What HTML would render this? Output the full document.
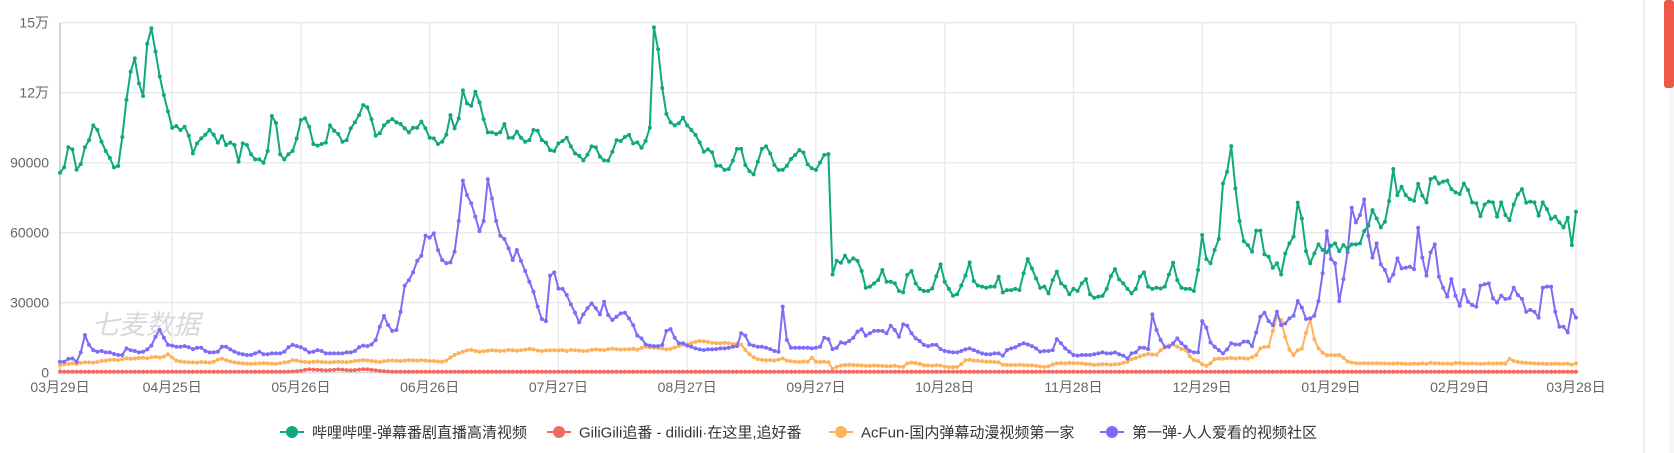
<!DOCTYPE html>
<html><head><meta charset="utf-8">
<style>
html,body{margin:0;padding:0;background:#fff;width:1674px;height:453px;overflow:hidden;font-family:"Liberation Sans","Noto Sans CJK SC",sans-serif;}
svg{position:absolute;left:0;top:0;}
</style></head>
<body>
<svg id="chart" width="1674" height="453" xmlns="http://www.w3.org/2000/svg"></svg>
<script>
const startDate = [2023, 2, 29]; // 03-29, daily categories
const dayCount = 366;
const xTickLabels = ["03月29日","04月25日","05月26日","06月26日","07月27日","08月27日","09月27日","10月28日","11月28日","12月29日","01月29日","02月29日","03月28日"];
const xTickIndex = [0,27,58,89,120,151,182,213,244,275,306,337,365];
const yTickValues = [0,30000,60000,90000,120000,150000];
const yTickLabels = ["0","30000","60000","90000","12万","15万"];
const seriesNames = ["哔哩哔哩-弹幕番剧直播高清视频","GiliGili追番 - dilidili·在这里,追好番","AcFun-国内弹幕动漫视频第一家","第一弹-人人爱看的视频社区"];
const seriesColors = ["#10a97f","#f4685d","#ffb25c","#7c6cf7"];
// values in thousands
const bilibili = [85.7,88,96.6,95.7,87,89.4,96.6,99.7,106,104,
99,95,92,88,88.6,101,117,129,134.7,124,
118.6,141,147.6,137.6,127,119,112,105,105.7,104,
105.4,101.6,94,98.3,100.4,102,104,102,98.6,101.4,
97.6,98.6,97.6,90.4,98.3,97.6,93.6,91.4,91.4,90,
95,110,107,93.6,91.4,93.6,95,100.4,108.3,109,
105.4,98,97.3,98,98.6,106,103.7,102.3,99,99.7,
104.7,107.3,110.4,114.7,113.7,108.7,101.6,102.6,106,107.6,
108.7,107.3,106.6,104.7,103,105,105,107.6,104.7,100.7,
100.4,98,99,102,110.4,104.7,109,121,115.4,114.4,
120.4,115.9,108.7,103,103,102.3,103,106.6,100.7,100.7,
103.3,100.7,99,99.7,104,103.7,99.7,98.6,95.4,95,
98.3,99.3,100.7,97,94,93,91,93.4,97,96.6,
92.6,91,90.9,94.7,99.7,99.3,101,101.9,98.3,98.7,
96.4,99.3,105,148,138.6,122,110.9,107.3,106,106.9,
109.3,106,104,101.9,98.7,94.7,95.7,94.4,88.7,88.7,
86.9,87.3,90.9,95.9,95.9,89,86.4,85,90.4,95.9,
97,94,89,86.9,86.9,88.7,91.6,93.3,95.4,94.3,
89.3,87.6,86.9,90.1,93.3,93.7,42.1,48,47.1,50.1,
47.6,49,48,43.6,36.4,36.9,38.3,39.7,44,39,
39,38.3,35,34.4,41.9,43.6,38.3,35.9,35,35,
36.1,41.4,46.4,39,35.9,33,33.6,37.3,41.6,47.3,
39.3,37.3,36.9,36.4,36.9,36.9,41.1,34.4,35.4,35.4,
35.9,35.4,42.6,48.7,44.7,40.4,36.4,36.9,34,39.7,
43.3,38.3,36.9,33.6,35.9,35,38.3,40.1,33.6,32.1,
32.6,32.9,35.9,41.4,44.4,40,38.3,35.9,34,35.9,
41.1,43,36.9,35.9,36.4,36.1,36.9,42.1,47.1,39.7,
36.4,35.9,35.9,35,44,59,48.7,46.9,52.6,57.3,
81.1,86.1,97.1,79,65,56.4,54.7,51.9,60.9,60.9,
50.7,49.7,45,46.9,42.1,51.1,55.4,58.3,72.9,66.1,
52.1,46.9,51.1,55,52.6,51.6,54.4,55.4,52.1,54.7,
53,55,55,55.4,60.7,63,69.7,66.1,62.3,64.7,
73.6,87.3,76.1,79.7,76.1,74.4,73.7,80.9,75.9,73,
83,83.7,81.1,81.9,82.3,78.7,77.3,76.6,81.1,78.3,
73,72.6,67.1,72.1,73.3,73,66.9,73,67.6,65.4,
72.1,76.4,78.7,72.9,73.3,73,67.3,73,70.1,65.9,
66.9,64.4,62.3,66.4,54.7,69];
const giligili = [0.4,0.4,0.4,0.4,0.4,0.4,0.4,0.4,0.4,0.4,
0.4,0.4,0.4,0.4,0.4,0.4,0.4,0.4,0.4,0.4,
0.4,0.4,0.4,0.4,0.4,0.4,0.4,0.4,0.4,0.4,
0.4,0.4,0.4,0.4,0.4,0.4,0.4,0.4,0.4,0.4,
0.4,0.4,0.4,0.4,0.4,0.4,0.4,0.4,0.4,0.4,
0.4,0.4,0.4,0.4,0.4,0.4,0.5,0.6,0.8,1.2,
1.4,1.3,1.2,1.1,1,1.1,1.2,1.4,1.3,1.1,
1,1.1,1.3,1.5,1.4,1.2,1,0.8,0.6,0.5,
0.4,0.4,0.4,0.4,0.4,0.4,0.4,0.4,0.4,0.4,
0.4,0.4,0.4,0.4,0.4,0.4,0.4,0.4,0.4,0.4,
0.4,0.4,0.4,0.4,0.4,0.4,0.4,0.4,0.4,0.4,
0.4,0.4,0.4,0.4,0.4,0.4,0.4,0.4,0.4,0.4,
0.4,0.4,0.4,0.4,0.4,0.4,0.4,0.4,0.4,0.4,
0.4,0.4,0.4,0.4,0.4,0.4,0.4,0.4,0.4,0.4,
0.4,0.4,0.4,0.4,0.4,0.4,0.4,0.4,0.4,0.4,
0.4,0.4,0.4,0.4,0.4,0.4,0.4,0.4,0.4,0.4,
0.4,0.4,0.4,0.4,0.4,0.4,0.4,0.4,0.4,0.4,
0.4,0.4,0.4,0.4,0.4,0.4,0.4,0.4,0.4,0.4,
0.4,0.4,0.4,0.4,0.4,0.4,0.4,0.4,0.4,0.4,
0.4,0.4,0.4,0.4,0.4,0.4,0.4,0.4,0.4,0.4,
0.4,0.4,0.4,0.4,0.4,0.4,0.4,0.4,0.4,0.4,
0.4,0.4,0.4,0.4,0.4,0.4,0.4,0.4,0.4,0.4,
0.4,0.4,0.4,0.4,0.4,0.4,0.4,0.4,0.4,0.4,
0.4,0.4,0.4,0.4,0.4,0.4,0.4,0.4,0.4,0.4,
0.4,0.4,0.4,0.4,0.4,0.4,0.4,0.4,0.4,0.4,
0.4,0.4,0.4,0.4,0.4,0.4,0.4,0.4,0.4,0.4,
0.4,0.4,0.4,0.4,0.4,0.4,0.4,0.4,0.4,0.4,
0.4,0.4,0.4,0.4,0.4,0.4,0.4,0.4,0.4,0.4,
0.4,0.4,0.4,0.4,0.4,0.4,0.4,0.4,0.4,0.4,
0.4,0.4,0.4,0.4,0.4,0.4,0.4,0.4,0.4,0.4,
0.4,0.4,0.4,0.4,0.4,0.4,0.4,0.4,0.4,0.4,
0.4,0.4,0.4,0.4,0.4,0.4,0.4,0.4,0.4,0.4,
0.4,0.4,0.4,0.4,0.4,0.4,0.4,0.4,0.4,0.4,
0.4,0.4,0.4,0.4,0.4,0.4,0.4,0.4,0.4,0.4,
0.4,0.4,0.4,0.4,0.4,0.4,0.4,0.4,0.4,0.4,
0.4,0.4,0.4,0.4,0.4,0.4,0.4,0.4,0.4,0.4,
0.4,0.4,0.4,0.4,0.4,0.4];
const acfun = [3.3,3.5,3.8,4,3.8,4.2,4.5,4.4,4.3,4.6,
5,5.2,5.5,5.6,5.4,5.8,6.2,6,6.1,6.3,
6.4,6.2,6.6,6.8,6.5,6.9,7.9,6.5,5.2,4.8,
4.6,4.5,4.4,4.3,4.6,4.5,4.3,4.7,5.6,6,
5.4,4.8,4.4,4.2,4,3.9,3.8,3.9,4,4.1,
4,3.9,3.8,4.1,4.4,4.6,5.4,5.2,4.8,4.6,
4.5,4.7,4.8,4.6,4.5,4.4,4.6,4.7,4.6,4.5,
4.7,5,5.2,5.4,5.3,5,4.8,4.6,4.9,5.2,
5.3,5.1,5,5.2,5.4,5.3,5.2,5.4,5.2,5,
5,4.8,4.7,5.2,6.5,7.6,8.4,9,9.6,9.8,
9.3,9,9.2,9.4,9.6,9.5,9.3,9.4,9.8,9.6,
9.4,9.6,9.9,10.2,10,9.5,9.3,9.5,9.6,9.6,
9.5,9.7,9.3,9.8,9.6,9.5,9.3,9.4,9.8,10,
9.8,9.7,10.1,10.3,10.1,9.9,10,10.1,10.2,9.9,
10.6,11,10.9,10.7,10.6,10.4,10,10.2,10.8,11.5,
12,12.2,12.6,13.2,13.6,13.4,13.2,12.8,12.7,12.6,
12.8,12.6,12.3,12.4,12,9.8,7.9,6.6,5.8,5.5,
5.3,5.4,5.2,5.6,6.1,5.2,4.9,4.7,4.6,4.8,
4.7,6.4,4.7,4.6,4.7,4.5,1.6,2.5,3.1,3.3,
3.4,3.3,3.2,3.1,3,3,3.1,3,2.9,2.8,
2.8,3,2.6,2.5,4,4.3,4.1,3.8,3.2,3.1,
3,3.2,3.1,2.6,2.4,2.4,2.5,3.6,5.4,5.5,
5.2,5.1,4.9,4.7,4.7,4.6,4.4,3.4,3.3,3.3,
3.3,3.4,3.3,3.2,3.2,3,2.6,2.5,2.7,3.5,
4,4.1,4,4.2,4.1,4.1,4,3.7,3.6,3.3,
3.5,3.6,3.6,3.4,3.6,3.7,4.2,4.6,5.8,6.3,
7,7.6,8,7.8,7.7,9.6,10.8,11.7,12,11.2,
10.2,9.8,7,5.4,5,3.6,2.9,4,5.8,6.1,
6,6.2,6.3,6.1,6.3,6.2,6,6.6,7.6,10.4,
11,11.2,17.9,24,22.6,15.3,9.9,7.6,9.6,10.3,
17.1,22.9,14.4,10.4,8.6,7.4,7.6,7.5,7.6,6.4,
4.8,4.3,4.1,4,4.1,4,4,4.1,4,4,
3.9,3.9,4,3.9,3.8,3.8,3.9,3.8,4,3.8,
4.2,4,4,3.9,3.9,3.8,4.2,4.1,4,3.9,
4,3.9,3.8,3.9,4,3.9,4,4,3.9,5.9,
5,4.6,4.4,4.2,4.1,4,3.9,3.9,3.8,3.8,
3.9,3.8,3.8,3.9,3.4,4];
const diyidan = [4.7,4.7,5.9,6.1,4.7,8.7,16.1,11.9,9.7,9,
9.3,8.7,8.7,8,7.6,7.6,10.4,9.7,9.3,8.7,
9,10,11.6,15.4,18.3,15,11.9,11.6,11.1,11.1,
11.4,10.9,10.1,10.7,10.7,9.3,8.7,8.7,9,11.1,
11.1,10,9,8.3,7.9,7.6,7.6,8.3,9,7.9,
7.9,8.3,8.3,8.3,9,10.9,11.9,11.4,10.9,10,
8.7,9,9.7,9.3,8.3,8.3,8.3,8.3,8.3,8.7,
8.7,9.3,10.9,11.6,11.4,12.1,14,19.7,24.3,20.4,
17.9,18.3,26.1,37.3,39.7,43,47.9,50.1,58.7,57.9,
59.7,52.6,48.3,46.9,47.3,51.9,65,82.3,76.1,72.6,
66.9,60.7,65,82.9,74.7,65,58.7,57.3,53.3,48.3,
52.6,47.9,43.6,39,34.7,28.3,23,22.1,41.6,43,
36.1,35.9,33.3,29.3,25.7,21.6,25,27.6,29.7,27.6,
25,30.4,24.7,22.6,24,25.4,25.7,23.3,20.4,15.9,
14.7,12.1,11.6,11.4,11.4,11.9,17.9,18.7,15,12.6,
12.6,11.6,11.1,10.4,10,9.7,10,10,10.1,10.4,
10.4,10.7,11.1,11.4,16.9,15.9,12.1,11.6,11.1,11.1,
10.7,10.1,9.3,9,28.3,14,10.7,10.7,10.7,10.7,
10.7,10.4,10.7,11.1,15,14.4,10.1,10.7,13,12.6,
13.6,15,17.6,18.6,15.9,16.9,17.9,17.9,17.9,16.9,
20.1,18.3,15.4,20.7,20.1,16.9,14.7,13.6,11.9,11.4,
11.9,11.9,10.1,9.3,9,8.7,8.7,9.3,10,10.4,
9.7,9,8.3,7.9,7.9,8.3,8.3,7.3,9.7,10.4,
10.9,11.9,12.6,12.1,11.4,10.4,9,9.3,9.3,9.7,
14.4,12.6,10.4,9,7.6,7.3,7.6,7.6,7.6,7.9,
8.3,8.7,8.3,8.3,8.7,7.9,7.3,6.1,8.3,8.7,
10.7,10.7,10.1,25,18.3,14,11.1,11.1,12.6,14.7,
12.6,11.1,9.3,8.7,8.7,22.1,19.3,13,11.1,9.7,
8.3,10,12.6,12.1,12.1,13.3,13.3,11.4,17.3,24,
25.7,22.1,20.4,26.1,20.4,21.1,23.3,24.4,30.7,27.9,
23,23.3,24.4,30.7,42.6,60.7,48.7,46.9,30.7,40.1,
51.6,70.7,64.4,67.6,74.3,58.7,49.3,55.4,46.4,44,
39.3,42.1,49,44.7,45,45.4,44.4,62.1,49.3,41.6,
51.6,55,41.1,36.4,32.6,40.1,33,28.7,35.4,30.4,
29,28.3,37.3,37.9,38.3,31.9,30.1,33,31.6,31.9,
36.4,33.3,31.6,26.1,26.9,26.1,23.6,36.4,36.9,36.9,
26.1,19.7,19.7,17.3,26.9,23.6];

const NS = "http://www.w3.org/2000/svg";
const svg = document.getElementById('chart');
const X0 = 60, X1 = 1576, Y0 = 372.7, Y1 = 22.7, YMAX = 150000;
const n = dayCount;
function xScale(i){ return X0 + (X1 - X0) * i / (n - 1); }
function yScale(v){ return Y0 - (Y0 - Y1) * v / YMAX; }
function mk(tag, attrs, parent){
  const el = document.createElementNS(NS, tag);
  for (const k in attrs) el.setAttribute(k, attrs[k]);
  (parent || svg).appendChild(el);
  return el;
}
yTickValues.forEach((v, k) => {
  const y = yScale(v);
  const g = mk('line', {x1: X0, x2: X1, y1: y, y2: y, stroke: k === 0 ? '#d8dbe2' : '#e9e9ec', 'stroke-width': 1.3});
  
  
  const t = mk('text', {x: 49, y: y + 5, 'text-anchor': 'end', 'font-size': 14, fill: '#666'});
  t.textContent = yTickLabels[k];
  
  
});
xTickIndex.forEach((idx, k) => {
  const x = xScale(idx);
  if (k > 0) {
    const g = mk('line', {x1: x, x2: x, y1: Y1, y2: Y0, stroke: '#e9e9ec', 'stroke-width': 1.3});
    
    
  }
  const t = mk('text', {x: x, y: 392, 'text-anchor': 'middle', 'font-size': 14, fill: '#666'});
  t.textContent = xTickLabels[k];
  
  
});
const ax = mk('line', {x1: X0, x2: X0, y1: Y1, y2: Y0, stroke: '#b9bcc6', 'stroke-width': 1.3});


const wm = mk('text', {x: 92, y: 334, 'font-size': 27, fill: '#d9d9d9', 'font-style': 'italic'});
wm.textContent = '七麦数据';


const allSeries = [bilibili, giligili, acfun, diyidan];
const drawOrder = [2, 3, 1, 0];
drawOrder.forEach(s => {
  const vals = allSeries[s];
  const g = mk('g', {});
  
  
  let d = '';
  vals.forEach((v, i) => { d += (i ? 'L' : 'M') + xScale(i).toFixed(2) + ' ' + yScale(v * 1000).toFixed(2); });
  const p = mk('path', {d: d, fill: 'none', stroke: seriesColors[s], 'stroke-width': 2, 'stroke-linejoin': 'round'}, g);
  
  
  vals.forEach((v, i) => {
    const c = mk('circle', {cx: xScale(i).toFixed(2), cy: yScale(v * 1000).toFixed(2), r: 2, fill: seriesColors[s]}, g);
    
    
  });
});
const legendIconX = [292, 559, 841, 1112];
seriesNames.forEach((name, k) => {
  const g = mk('g', {});
  
  
  mk('line', {x1: legendIconX[k] - 12, x2: legendIconX[k] + 12, y1: 432, y2: 432, stroke: seriesColors[k], 'stroke-width': 2}, g);
  mk('circle', {cx: legendIconX[k], cy: 432, r: 6, fill: seriesColors[k]}, g);
  const t = mk('text', {x: legendIconX[k] + 20, y: 437.5, 'font-size': 15, fill: '#333'}, g);
  t.textContent = name;
});
const sep = mk('line', {x1: 1644, x2: 1644, y1: 0, y2: 453, stroke: '#dedede', 'stroke-width': 1});


const track = mk('rect', {x: 1669, y: 0, width: 5, height: 453, fill: '#f5f6fa'});


const thumb = mk('rect', {x: 1664, y: 0, width: 10, height: 88, rx: 3, fill: '#ee5a45'});


</script>
</body></html>
